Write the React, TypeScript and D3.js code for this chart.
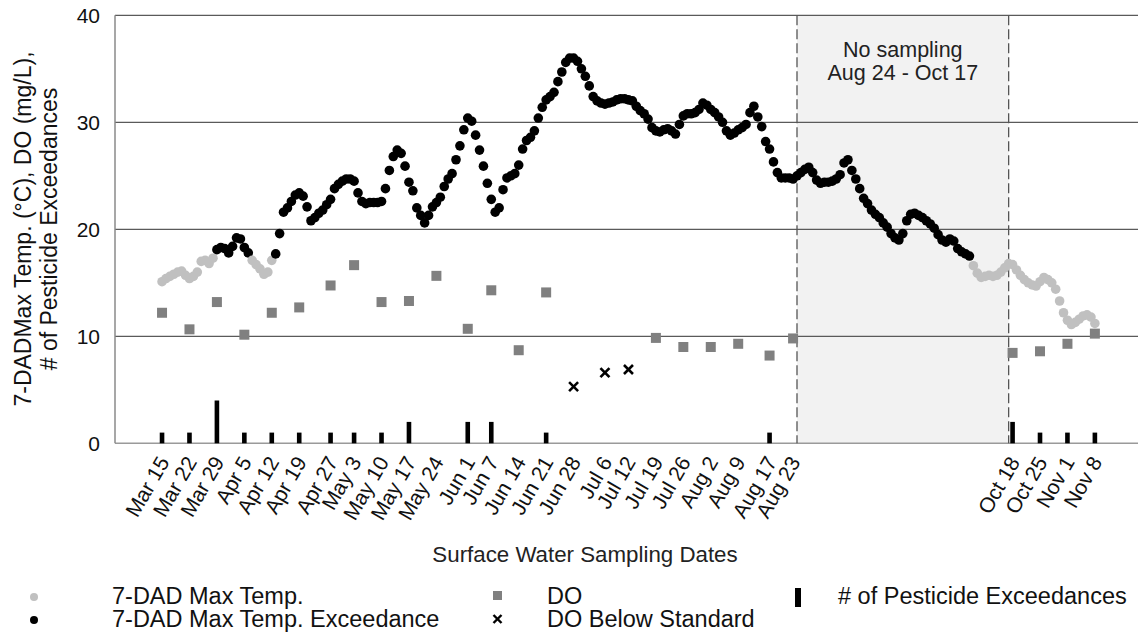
import * as d3 from "d3";

// sampling dates (weekly surface water samples)
const sampleDates = [
  "2021-03-15", "2021-03-22", "2021-03-29", "2021-04-05", "2021-04-12", "2021-04-19",
  "2021-04-27", "2021-05-03", "2021-05-10", "2021-05-17", "2021-05-24", "2021-06-01",
  "2021-06-07", "2021-06-14", "2021-06-21", "2021-06-28", "2021-07-06", "2021-07-12",
  "2021-07-19", "2021-07-26", "2021-08-02", "2021-08-09", "2021-08-17", "2021-08-23",
  "2021-10-18", "2021-10-25", "2021-11-01", "2021-11-08",
];
const tickLabels = [
  "Mar 15", "Mar 22", "Mar 29", "Apr 5", "Apr 12", "Apr 19", "Apr 27", "May 3", "May 10",
  "May 17", "May 24", "Jun 1", "Jun 7", "Jun 14", "Jun 21", "Jun 28", "Jul 6", "Jul 12",
  "Jul 19", "Jul 26", "Aug 2", "Aug 9", "Aug 17", "Aug 23", "Oct 18", "Oct 25", "Nov 1", "Nov 8",
];
// dissolved oxygen (mg/L) per sampling date
const doValues = [
  12.2, 10.65, 13.2, 10.15, 12.2, 12.7, 14.75, 16.65, 13.2, 13.3, 15.65, 10.7, 14.3, 8.7,
  14.1, 5.3, 6.6, 6.9, 9.85, 9.0, 9.0, 9.3, 8.2, 9.8, 8.45, 8.6, 9.3, 10.25,
];
// number of pesticide exceedances per sampling date
const pesticideCounts = [
  1, 1, 4, 1, 1, 1, 1, 1, 1, 2, 0, 2, 2, 0, 1, 0, 0, 0, 0, 0, 0, 0, 1, 0, 2, 1, 1, 1,
];

// daily 7-DAD max temperature (°C), starting Mar 15
const tempStart = "2021-03-15";
const maxTemp = [
  15.1, 15.4, 15.6, 15.8, 16.0, 16.1, 15.7, 15.4, 15.6, 16.0, 17.0, 17.1, 16.8, 17.3,
  18.1, 18.3, 18.2, 17.8, 18.4, 19.2, 19.1, 18.3, 17.8,
  17.1, 16.7, 16.3, 15.8, 16.0, 17.1, 17.7,
  19.6, 21.6, 22.0, 22.6, 23.2, 23.4, 23.1, 22.1, 20.8, 21.1,
  21.5, 21.8, 22.3, 22.8, 23.8, 24.2, 24.5, 24.7, 24.7, 24.5,
  23.4, 22.6, 22.4, 22.5, 22.5, 22.5, 22.6, 23.8, 25.5, 26.8,
  27.4, 27.1, 25.9, 24.4, 23.6, 22.0, 21.3, 20.6, 21.3, 22.1,
  22.5, 23.0, 24.0, 24.7, 25.2, 26.5, 27.8, 29.3, 30.4, 30.1,
  28.8, 27.4, 25.9, 24.3, 22.8, 21.6, 22.0, 23.7, 24.8, 25.0,
  25.2, 26.0, 27.5, 28.3, 28.6, 29.2, 30.4, 31.4, 32.1, 32.4,
  32.8, 33.8, 34.7, 35.6, 36.0, 36.0, 35.7, 35.0, 34.3, 33.4,
  32.4, 32.0, 31.8, 31.7, 31.8, 31.9, 32.1, 32.2, 32.2, 32.1,
  32.0, 31.5, 31.1, 30.8, 30.3, 29.5, 29.2, 29.1, 29.3, 29.4,
  29.2, 28.9, 29.8, 30.6, 30.8, 30.8, 30.9, 31.2, 31.8, 31.6,
  31.2, 30.9, 30.5, 30.0, 29.2, 28.8, 29.0, 29.3, 29.5, 29.8,
  30.9, 31.5, 30.5, 29.6, 28.2, 27.5, 26.3, 25.3, 24.8, 24.8,
  24.8, 24.7, 25.0, 25.3, 25.6, 25.8, 25.3, 24.6, 24.3, 24.4,
  24.4, 24.5, 24.7, 25.1, 26.2, 26.5, 25.5, 24.7, 23.8, 22.9,
  22.4, 21.8, 21.4, 21.1, 20.6, 20.2, 19.6, 19.2, 19.0, 19.6,
  20.8, 21.4, 21.5, 21.3, 21.1, 20.8, 20.5, 20.1, 19.5, 19.0,
  18.8, 19.1, 18.9, 18.2, 17.9, 17.7, 17.5, 16.6, 15.9, 15.5,
  15.6, 15.7, 15.6, 15.7, 16.0, 16.4, 16.8, 16.7, 16.2, 15.7,
  15.3, 15.0, 14.8, 14.7, 15.1, 15.5, 15.3, 15.0, 14.4, 13.3,
  12.2, 11.5, 11.1, 11.3, 11.6, 11.9, 12.0, 11.8, 11.2,
];

const TEMP_STANDARD = 17.5;
const DO_STANDARD = 8;
const gapStart = "2021-08-24";
const gapEnd = "2021-10-17";
const yTicks = [0, 10, 20, 30, 40];

const W = 1138;
const H = 639;
const FONT = "'Liberation Sans', Arial, sans-serif";

export default function App() {
  const parse = d3.timeParse("%Y-%m-%d");
  const x = d3
    .scaleTime()
    .domain([parse("2021-03-03")!, parse("2021-11-19")!])
    .range([115, W]);
  const y = d3.scaleLinear().domain([0, 40]).range([443.3, 15.3]);

  const t0 = parse(tempStart)!;
  const temps = maxTemp.map((v, i) => ({ date: d3.timeDay.offset(t0, i), v }));
  const samples = sampleDates.map((s, i) => ({
    date: parse(s)!,
    label: tickLabels[i],
    dox: doValues[i],
    pest: pesticideCounts[i],
  }));

  const gx0 = x(parse(gapStart)!);
  const gx1 = x(parse(gapEnd)!);
  const top = y(40);
  const bottom = y(0);

  return (
    <svg
      width={W}
      height={H}
      style={{ position: "absolute", left: 0, top: 0, background: "#fff" }}
      fontFamily={FONT}
    >
      {/* no-sampling window */}
      <rect x={gx0} y={top} width={gx1 - gx0} height={bottom - top} fill="#f2f2f2" />
      <text x={(gx0 + gx1) / 2} y={57} textAnchor="middle" fontSize={21.5} fill="#222">
        No sampling
      </text>
      <text x={(gx0 + gx1) / 2} y={80} textAnchor="middle" fontSize={21.5} fill="#222">
        Aug 24 - Oct 17
      </text>

      {/* grid */}
      {yTicks.slice(1).map((t) => (
        <line key={t} x1={115} x2={W} y1={y(t)} y2={y(t)} stroke="#5a5a5a" strokeWidth={1.2} />
      ))}
      <line x1={115} x2={W} y1={bottom} y2={bottom} stroke="#9a9a9a" strokeWidth={1.5} />
      <line x1={115} x2={115} y1={top} y2={bottom} stroke="#8a8a8a" strokeWidth={1.5} />
      {[gx0, gx1].map((gx, i) => (
        <line
          key={i}
          x1={gx}
          x2={gx}
          y1={top}
          y2={bottom}
          stroke="#555"
          strokeWidth={1.3}
          strokeDasharray="10,4"
        />
      ))}

      {/* y tick labels */}
      {yTicks.map((t) => (
        <text key={t} x={100} y={y(t)} dy="0.35em" textAnchor="end" fontSize={21} fill="#111">
          {t}
        </text>
      ))}

      {/* daily temperature */}
      {temps.map((d, i) => (
        <circle
          key={i}
          cx={x(d.date)}
          cy={y(d.v)}
          r={4.8}
          fill={d.v >= TEMP_STANDARD ? "#000" : "#c0c0c0"}
        />
      ))}

      {/* DO */}
      {samples.map((s, i) =>
        s.dox >= DO_STANDARD ? (
          <rect key={i} x={x(s.date) - 5} y={y(s.dox) - 5} width={10} height={10} fill="#808080" />
        ) : (
          <g key={i} transform={`translate(${x(s.date)},${y(s.dox)})`} stroke="#000" strokeWidth={2.6}>
            <line x1={-4.5} y1={-4.5} x2={4.5} y2={4.5} />
            <line x1={-4.5} y1={4.5} x2={4.5} y2={-4.5} />
          </g>
        )
      )}

      {/* pesticide exceedances */}
      {samples
        .filter((s) => s.pest > 0)
        .map((s, i) => (
          <rect
            key={i}
            x={x(s.date) - 2.3}
            y={y(s.pest)}
            width={4.6}
            height={bottom - y(s.pest)}
            fill="#000"
          />
        ))}

      {/* x tick labels */}
      {samples.map((s, i) => (
        <text
          key={i}
          transform={`translate(${x(s.date) + 8},${462}) rotate(-60)`}
          textAnchor="end"
          fontSize={21}
          fill="#111"
        >
          {s.label}
        </text>
      ))}

      <text x={585} y={562} textAnchor="middle" fontSize={22.3} fill="#222">
        Surface Water Sampling Dates
      </text>

      <g transform="translate(31,229) rotate(-90)">
        <text textAnchor="middle" fontSize={23} fill="#111">
          7-DADMax Temp. (°C), DO (mg/L),
        </text>
      </g>
      <g transform="translate(57,229) rotate(-90)">
        <text textAnchor="middle" fontSize={23} fill="#111">
          # of Pesticide Exceedances
        </text>
      </g>

      {/* legend */}
      <g fontSize={23.5} fill="#111">
        <circle cx={34} cy={597} r={4} fill="#c0c0c0" />
        <text x={112} y={604}>7-DAD Max Temp.</text>
        <circle cx={34} cy={620} r={4} fill="#000" />
        <text x={112} y={627}>7-DAD Max Temp. Exceedance</text>
        <rect x={493} y={591} width={9} height={9} fill="#808080" />
        <text x={547} y={604}>DO</text>
        <g transform="translate(497.5,619)" stroke="#000" strokeWidth={2.4}>
          <line x1={-4} y1={-4} x2={4} y2={4} />
          <line x1={-4} y1={4} x2={4} y2={-4} />
        </g>
        <text x={547} y={627}>DO Below Standard</text>
        <rect x={795} y={588} width={6} height={19} fill="#000" />
        <text x={838} y={604}># of Pesticide Exceedances</text>
      </g>
    </svg>
  );
}
